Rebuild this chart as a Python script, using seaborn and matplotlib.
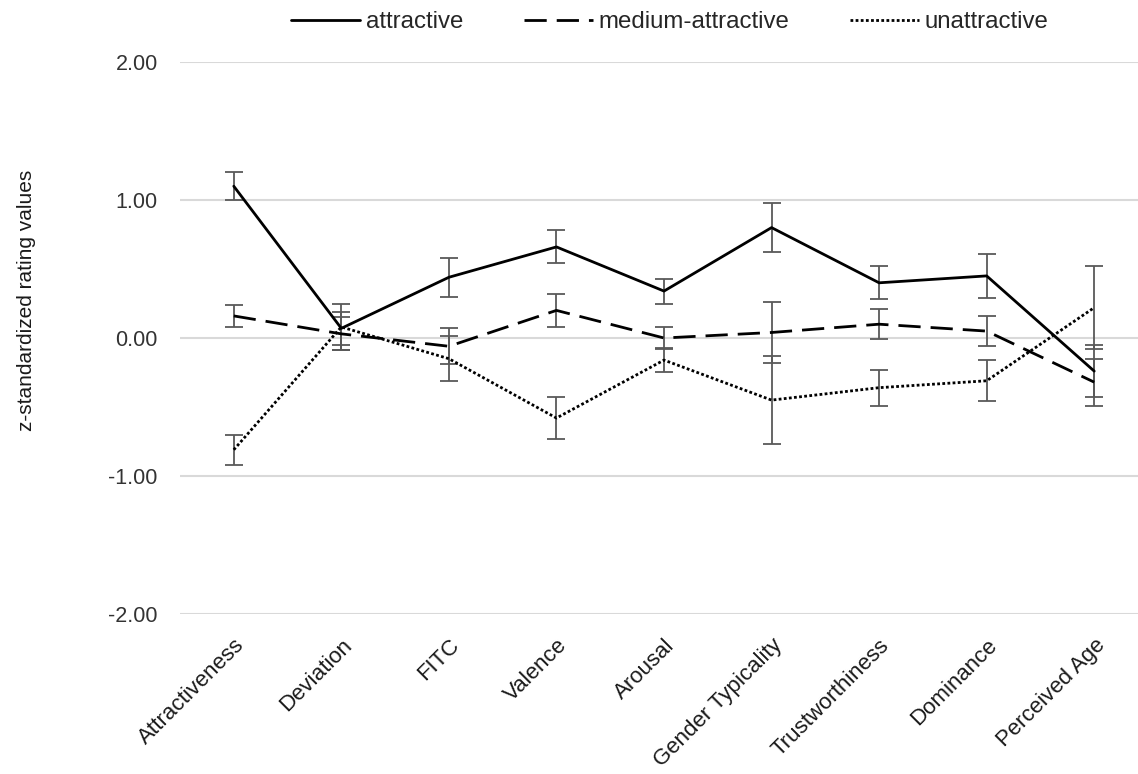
import numpy as np
import pandas as pd
import matplotlib
matplotlib.use("Agg")
import matplotlib.pyplot as plt
import seaborn as sns

categories = ["Attractiveness", "Deviation", "FITC", "Valence", "Arousal",
              "Gender Typicality", "Trustworthiness", "Dominance", "Perceived Age"]
groups = ["attractive", "medium-attractive", "unattractive"]

attractive = [1.10, 0.07, 0.44, 0.66, 0.34, 0.80, 0.40, 0.45, -0.24]
medium = [0.16, 0.03, -0.06, 0.20, 0.00, 0.04, 0.10, 0.05, -0.32]
unattractive = [-0.81, 0.08, -0.15, -0.58, -0.16, -0.45, -0.36, -0.31, 0.22]

err_attractive = [0.10, 0.12, 0.14, 0.12, 0.09, 0.18, 0.12, 0.16, 0.19]
err_medium = [0.08, 0.12, 0.13, 0.12, 0.08, 0.22, 0.11, 0.11, 0.17]
err_unattractive = [0.11, 0.17, 0.165, 0.15, 0.085, 0.32, 0.13, 0.15, 0.30]

yticks = [-2.0, -1.0, 0.0, 1.0, 2.0]

sns.set_theme(style="white")
plt.rcParams["font.family"] = ["Liberation Sans", "DejaVu Sans"]

means = {"attractive": attractive, "medium-attractive": medium, "unattractive": unattractive}
errs = {"attractive": err_attractive, "medium-attractive": err_medium, "unattractive": err_unattractive}

rows = []
for g in groups:
    for i, c in enumerate(categories):
        rows.append({"category": c, "pos": i, "group": g, "value": means[g][i], "err": errs[g][i]})
df = pd.DataFrame(rows)

fig = plt.figure(figsize=(11.38, 7.74), dpi=100)
ax = fig.add_axes([180 / 1138, 1 - 614 / 774, 968 / 1138, (614 - 62) / 774])

for y in yticks:
    ax.axhline(y, color="#d9d9d9", lw=1.5, zorder=0)

# error bars
for g in groups:
    sub = df[df.group == g]
    ax.errorbar(sub["pos"], sub["value"], yerr=sub["err"], fmt="none",
                ecolor="#595959", elinewidth=1.3, capsize=6.5, capthick=1.3, zorder=2)

dashes = {"attractive": "", "medium-attractive": (8, 3.6), "unattractive": (1, 0.85)}
sns.lineplot(data=df, x="pos", y="value", hue="group", style="group",
             palette={g: "black" for g in groups}, dashes=dashes,
             hue_order=groups, style_order=groups,
             linewidth=2.0, ax=ax, zorder=3, legend=True)

ax.set_xlim(-0.5, 8.5)
ax.set_ylim(-2.0, 2.0)
ax.set_yticks(yticks)
ax.set_yticklabels([f"{v:.2f}" for v in yticks], fontsize=15.5, color="#333333")
ax.set_xticks(range(len(categories)))
ax.set_xticklabels(categories, rotation=45, ha="right", rotation_mode="anchor",
                   fontsize=16, color="#1a1a1a")
ax.tick_params(axis="x", length=0, pad=15)
ax.tick_params(axis="y", length=0, pad=16)
ax.set_xlabel("")
ax.set_ylabel("z-standardized rating values", fontsize=15, color="#1a1a1a")
ax.yaxis.set_label_coords(-144 / 968, 0.5 + 38 / 552)
for s in ax.spines.values():
    s.set_visible(False)

handles, labels = ax.get_legend_handles_labels()
ax.legend_.remove()
fig.legend(handles, labels, loc="center", bbox_to_anchor=(670 / 1138, 1 - 22 / 774),
           ncol=3, frameon=False, fontsize=17.3, handlelength=2.87,
           columnspacing=2.5, handletextpad=0.25)

fig.savefig("out.png", dpi=100)
